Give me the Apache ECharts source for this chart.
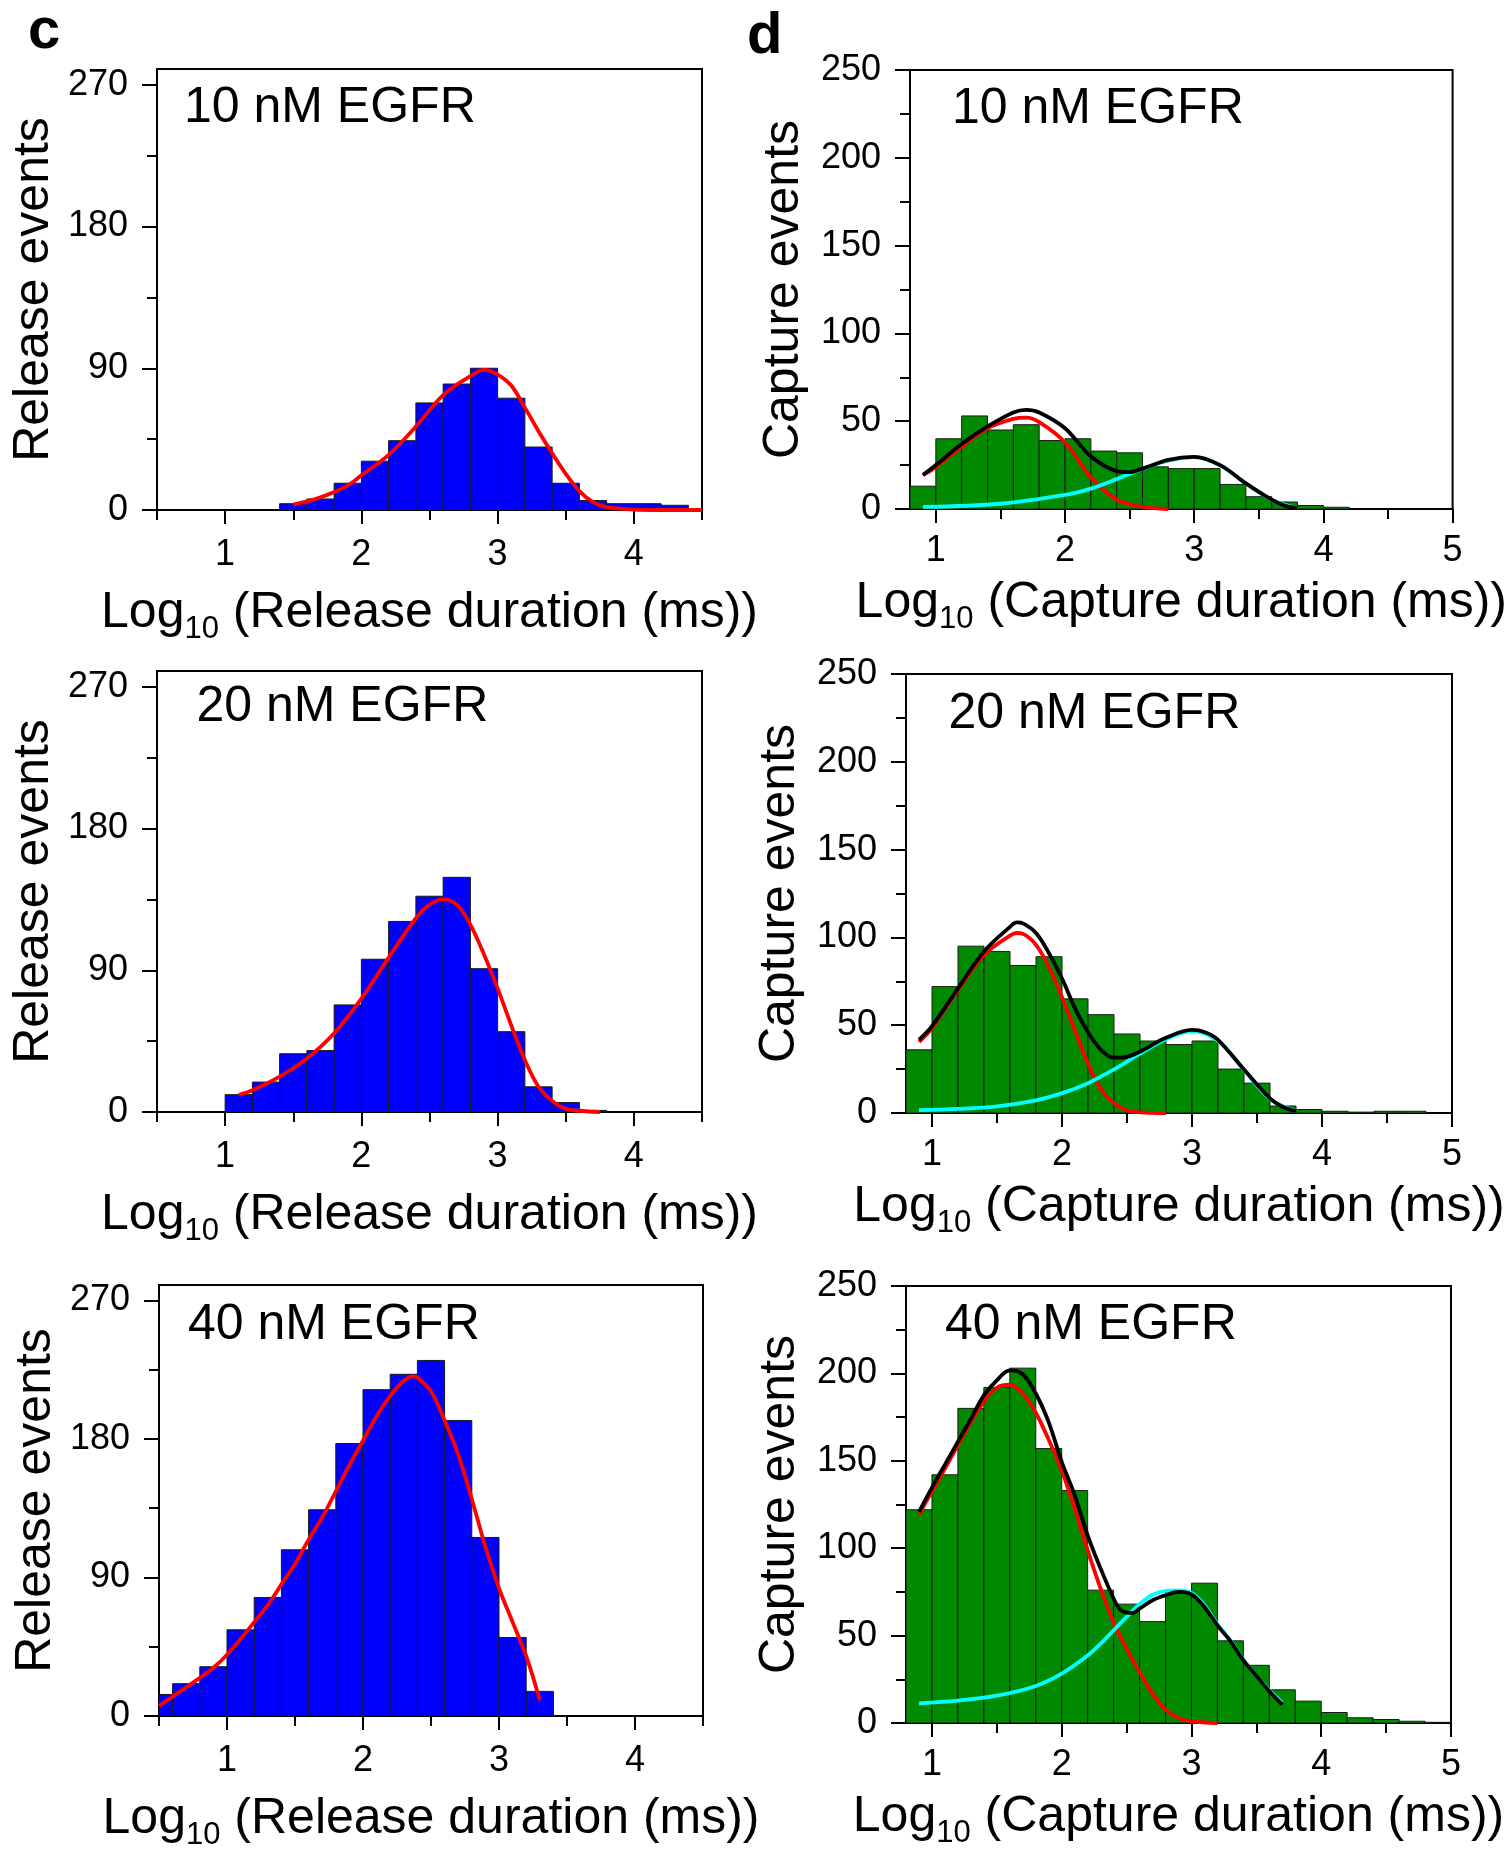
<!DOCTYPE html>
<html><head><meta charset="utf-8">
<script src="https://cdn.jsdelivr.net/npm/echarts@6/dist/echarts.min.js"></script>
<style>html,body{margin:0;padding:0;background:#fff}#chart{width:1509px;height:1852px}</style>
</head><body><div id="chart"></div>
<script>
// ---------------- DATA ----------------
const binWidth = 0.2;
const panelTitles = ['10 nM EGFR', '20 nM EGFR', '40 nM EGFR'];

// c: release histograms (left edge of each bin, counts)
const rel10Edges  = [1.4,1.6,1.8,2.0,2.2,2.4,2.6,2.8,3.0,3.2,3.4,3.6,3.8,4.0,4.2];
const rel10Counts = [4,7,17,31,44,68,80,90,71,40,17,6,4,4,3];
const rel10FitX   = [1.5,1.7,1.9,2.0,2.2,2.4,2.6,2.8,2.9,3.0,3.1,3.2,3.3,3.4,3.5,3.6,3.7,3.8,4.0,4.2,4.5];
const rel10FitY   = [3.4,8,15.5,22,35,53,73,85,89,86,79,65,50,36,23,12,5,1.8,0.3,0,0];

const rel20Edges  = [1.0,1.2,1.4,1.6,1.8,2.0,2.2,2.4,2.6,2.8,3.0,3.2,3.4,3.6];
const rel20Counts = [11,19,37,39,68,97,121,137,149,91,51,16,6,1];
const rel20FitX   = [1.1,1.2,1.4,1.6,1.8,2.0,2.2,2.4,2.5,2.6,2.7,2.8,2.9,3.0,3.1,3.2,3.3,3.4,3.5,3.6,3.75];
const rel20FitY   = [10.8,13.8,22.5,34,50,72,98,123,131.6,135,131.6,119,100,78.5,55,33,16,7,2,0.8,0];

const rel40Edges  = [0.4,0.6,0.8,1.0,1.2,1.4,1.6,1.8,2.0,2.2,2.4,2.6,2.8,3.0,3.2];
const rel40Counts = [14,21,32,56,77,108,134,177,212,222,231,192,116,51,16];
const rel40FitX   = [0.5,0.6,0.8,0.9,1.0,1.1,1.2,1.3,1.4,1.5,1.6,1.7,1.8,1.9,2.0,2.1,2.2,2.3,2.37,2.4,2.5,2.6,2.7,2.8,2.9,3.0,3.1,3.2,3.3];
const rel40FitY   = [6.6,12.6,24.8,31.3,39.8,50,61,72,85.5,98.8,114.6,129,146,163,179,194.7,208,217.8,220.7,220,211,192,170,141,110,83,61,39,10.2];

// d: capture histograms
const cap10Edges  = [0.8,1.0,1.2,1.4,1.6,1.8,2.0,2.2,2.4,2.6,2.8,3.0,3.2,3.4,3.6,3.8,4.0];
const cap10Counts = [13,40,53,45,48,39,40,33,32,24,23,23,14,7,4,2,1];
const cap10RedX   = [0.9,1.0,1.2,1.4,1.6,1.7,1.8,2.0,2.2,2.4,2.6,2.8];
const cap10RedY   = [19.3,24,35.5,46,51.3,52,49.5,38,18,5.3,1.2,0];
const cap10CyanX  = [0.9,1.5,2.0,2.2,2.4,2.6,2.8,3.0,3.2,3.4,3.6,3.8];
const cap10CyanY  = [1.2,3,8,11.6,17,22.8,27.5,29.5,25,14.5,5.2,0.5];
const cap10SumX   = [0.9,1.0,1.2,1.4,1.6,1.7,1.8,2.0,2.2,2.4,2.5,2.6,2.8,3.0,3.2,3.4,3.6,3.7,3.8];
const cap10SumY   = [19.3,25,37,47,55,56.5,55,46,30,21.6,21,23,28,29.7,25,14.6,5.3,1.9,0.5];

const cap20Edges  = [0.8,1.0,1.2,1.4,1.6,1.8,2.0,2.2,2.4,2.6,2.8,3.0,3.2,3.4,3.6,3.8,4.0,4.2,4.4,4.6];
const cap20Counts = [36,72,95,92,84,89,65,56,45,41,39,41,25,17,4,2,1,0.5,1,1];
const cap20RedX   = [0.9,1.0,1.2,1.4,1.6,1.65,1.7,1.8,1.9,2.0,2.1,2.2,2.3,2.4,2.5,2.6,2.8];
const cap20RedY   = [40.5,48.4,70,90,101,102.5,102,95.7,83,66,47,28,13.5,5.6,1.6,0.4,0];
const cap20CyanX  = [0.9,1.2,1.5,1.8,2.0,2.2,2.4,2.6,2.8,3.0,3.2,3.4,3.6,3.8];
const cap20CyanY  = [1.6,2.3,3.8,7.2,11.3,17,24.8,33.8,42,46.5,41,24.5,8,1];
const cap20SumX   = [0.9,1.0,1.2,1.4,1.6,1.65,1.7,1.8,1.9,2.0,2.1,2.2,2.3,2.4,2.5,2.6,2.8,3.0,3.1,3.2,3.4,3.6,3.7,3.8];
const cap20SumY   = [41.7,49.5,71,92,106,108.6,108,102.5,91,76.6,59.7,46,36,31.5,32,35,42.8,47.3,46,41.7,24.8,8.3,3.4,1];

const cap40Edges  = [0.8,1.0,1.2,1.4,1.6,1.8,2.0,2.2,2.4,2.6,2.8,3.0,3.2,3.4,3.6,3.8,4.0,4.2,4.4,4.6,4.8];
const cap40Counts = [122,142,180,192,203,157,133,76,68,58,75,80,47,33,19,12.5,6,3,2,1,0.4];
const cap40RedX   = [0.9,1.0,1.1,1.2,1.3,1.4,1.5,1.6,1.7,1.8,1.9,2.0,2.1,2.2,2.3,2.4,2.5,2.6,2.7,2.8,2.9,3.0,3.2];
const cap40RedY   = [119.3,132.5,145.6,159,172,184,191.8,193.5,188.5,177.5,162,144.6,122.7,98.8,76.9,57.8,42.5,29.2,16.8,7.6,2.9,1,0];
const cap40CyanX  = [0.9,1.2,1.5,1.8,2.0,2.2,2.3,2.4,2.5,2.6,2.7,2.8,2.9,3.0,3.1,3.2,3.3,3.4,3.5,3.6,3.7];
const cap40CyanY  = [11.2,12.8,15.6,21.2,28.2,38.6,45.4,53,60.7,68,73.4,75.6,75.9,74.4,67.4,56.5,47.2,36.2,27,18.7,11.6];
const cap40SumX   = [0.9,1.0,1.1,1.2,1.3,1.4,1.5,1.6,1.7,1.8,1.9,2.0,2.1,2.2,2.3,2.4,2.45,2.5,2.55,2.6,2.7,2.8,2.9,3.0,3.1,3.2,3.3,3.4,3.5,3.6,3.7];
const cap40SumY   = [120.8,134.7,147.8,161,174,187.4,196,201.7,199.5,188.5,172,149.4,130.3,107.4,88.3,71.2,64.9,63.2,63,65.4,70.2,73.1,75,73.6,66.4,55.9,46.8,35.8,27,18.2,10.5];

// axis ticks / labels
const relYLabels = [0,90,180,270];
const relYMinor  = [45,135,225];
const relXLabels = [1,2,3,4];
const relXMinor  = [0.5,1.5,2.5,3.5,4.5];
const capYLabels = [0,50,100,150,200,250];
const capYMinor  = [25,75,125,175,225];
const capXLabels = [1,2,3,4,5];
const capXMinor  = [1.5,2.5,3.5,4.5];

// ---------------- CHART ----------------
const FONT = "'Liberation Sans', Arial, Helvetica, sans-serif";
const RED = '#ff0000', CYAN = '#00ffff', BLACK = '#000000';
const BLUE = '#0000ff', GREEN = '#008a00';

const panels = [
  {kind:'rel', grid:{left:157,top:69,width:545,height:441}, edges:rel10Edges, counts:rel10Counts,
   curves:[[rel10FitX,rel10FitY,RED]], title:panelTitles[0], tpos:[184,111]},
  {kind:'cap', grid:{left:910,top:70,width:544,height:439}, edges:cap10Edges, counts:cap10Counts,
   curves:[[cap10RedX,cap10RedY,RED],[cap10CyanX,cap10CyanY,CYAN],[cap10SumX,cap10SumY,BLACK]], title:panelTitles[0], tpos:[952,112]},
  {kind:'rel', grid:{left:157,top:671,width:545,height:441}, edges:rel20Edges, counts:rel20Counts,
   curves:[[rel20FitX,rel20FitY,RED]], title:panelTitles[1], tpos:[196.5,710]},
  {kind:'cap', grid:{left:906,top:674,width:546,height:439}, edges:cap20Edges, counts:cap20Counts,
   curves:[[cap20RedX,cap20RedY,RED],[cap20CyanX,cap20CyanY,CYAN],[cap20SumX,cap20SumY,BLACK]], title:panelTitles[1], tpos:[948.5,717]},
  {kind:'rel', grid:{left:159,top:1285,width:544,height:442}, edges:rel40Edges, counts:rel40Counts,
   curves:[[rel40FitX,rel40FitY,RED]], title:panelTitles[2], tpos:[188,1328]},
  {kind:'cap', grid:{left:906,top:1286,width:545,height:437}, edges:cap40Edges, counts:cap40Counts,
   curves:[[cap40RedX,cap40RedY,RED],[cap40CyanX,cap40CyanY,CYAN],[cap40SumX,cap40SumY,BLACK]], title:panelTitles[2], tpos:[945,1328]}
];

const grids = [], xAxes = [], yAxes = [], series = [], graphics = [];
const lineStyle = {color:'#000', width:2};

panels.forEach((p, i) => {
  const rel = p.kind === 'rel';
  grids.push(Object.assign({show:true, borderColor:'#000', borderWidth:2, backgroundColor:'#fff'}, p.grid));
  const xmin = rel ? 0.5 : 0.8, xmax = rel ? 4.5 : 5;
  const ymax = rel ? 280 : 250;
  const xName = rel ? '{a|Log}{b|10}{a| (Release duration (ms))}' : '{a|Log}{b|10}{a| (Capture duration (ms))}';
  xAxes.push({
    type:'value', gridIndex:i, min:xmin, max:xmax, position:'bottom',
    axisLine:{show:true, onZero:false, lineStyle},
    axisTick:{show:true, length:14, lineStyle, customValues: rel ? relXLabels : capXLabels},
    axisLabel:{show:true, customValues: rel ? relXLabels : capXLabels, fontSize:36, color:'#000', fontFamily:FONT, margin: rel ? 27 : 24},
    splitLine:{show:false},
    name:xName, nameLocation:'middle', nameGap: rel ? 71 : 62,
    nameTextStyle:{rich:{
      a:{fontSize:50, lineHeight:64, fontFamily:FONT, color:'#000'},
      b:{fontSize:31, lineHeight:26, verticalAlign:'bottom', fontFamily:FONT, color:'#000'}
    }}
  });
  xAxes.push({
    type:'value', gridIndex:i, min:xmin, max:xmax, position:'bottom',
    axisLine:{show:false, onZero:false},
    axisTick:{show:true, length:10, lineStyle, customValues: rel ? relXMinor : capXMinor},
    axisLabel:{show:false}, splitLine:{show:false}
  });
  yAxes.push({
    type:'value', gridIndex:i, min:0, max:ymax, position:'left',
    axisLine:{show:true, onZero:false, lineStyle},
    axisTick:{show:true, length:15, lineStyle, customValues: rel ? relYLabels : capYLabels},
    axisLabel:{show:true, customValues: rel ? relYLabels : capYLabels, fontSize:36, color:'#000', fontFamily:FONT, margin:29},
    splitLine:{show:false},
    name: rel ? 'Release events' : 'Capture events', nameLocation:'middle', nameGap: rel ? 98 : 101,
    nameTextStyle:{fontSize:50, fontFamily:FONT, color:'#000'}
  });
  yAxes.push({
    type:'value', gridIndex:i, min:0, max:ymax, position:'left',
    axisLine:{show:false, onZero:false},
    axisTick:{show:true, length:10, lineStyle, customValues: rel ? relYMinor : capYMinor},
    axisLabel:{show:false}, splitLine:{show:false}
  });
  const xi = 2*i, yi = 2*i;
  const barData = p.edges.map((e, k) => [e, e + binWidth, p.counts[k]]);
  const fill = rel ? BLUE : GREEN;
  series.push({
    type:'custom', xAxisIndex:xi, yAxisIndex:yi, clip:true, z:2,
    encode:{x:[0,1], y:2},
    data:barData,
    renderItem:(params, api) => {
      const a = api.coord([api.value(0), 0]);
      const b = api.coord([api.value(1), api.value(2)]);
      const cs = params.coordSys;
      const x0 = Math.max(a[0], cs.x), x1 = Math.min(b[0], cs.x + cs.width);
      return {type:'rect', shape:{x:x0, y:b[1], width:x1 - x0, height:a[1] - b[1]},
              style:{fill:fill, stroke:'#1a1a1a', lineWidth:1}};
    }
  });
  p.curves.forEach((c, k) => {
    series.push({
      type:'line', xAxisIndex:xi, yAxisIndex:yi, z:3 + k, clip:true,
      data:c[0].map((x, j) => [x, c[1][j]]),
      showSymbol:false, symbol:'none', smooth:0.35,
      lineStyle:{color:c[2], width:3.8}
    });
  });
  graphics.push({type:'text', left:p.tpos[0], top:p.tpos[1] - 28, z:100,
    style:{text:p.title, fontSize:50, fontFamily:FONT, fill:'#000'}});
});

graphics.push({type:'text', left:28, top:3, z:100, style:{text:'c', fontSize:58, fontWeight:'bold', fontFamily:FONT, fill:'#000'}});
graphics.push({type:'text', left:747, top:8, z:100, style:{text:'d', fontSize:58, fontWeight:'bold', fontFamily:FONT, fill:'#000'}});

const chart = echarts.init(document.getElementById('chart'), null, {renderer:'canvas'});
chart.setOption({
  animation:false,
  backgroundColor:'#fff',
  grid:grids, xAxis:xAxes, yAxis:yAxes, series:series, graphic:graphics
});
</script></body></html>
